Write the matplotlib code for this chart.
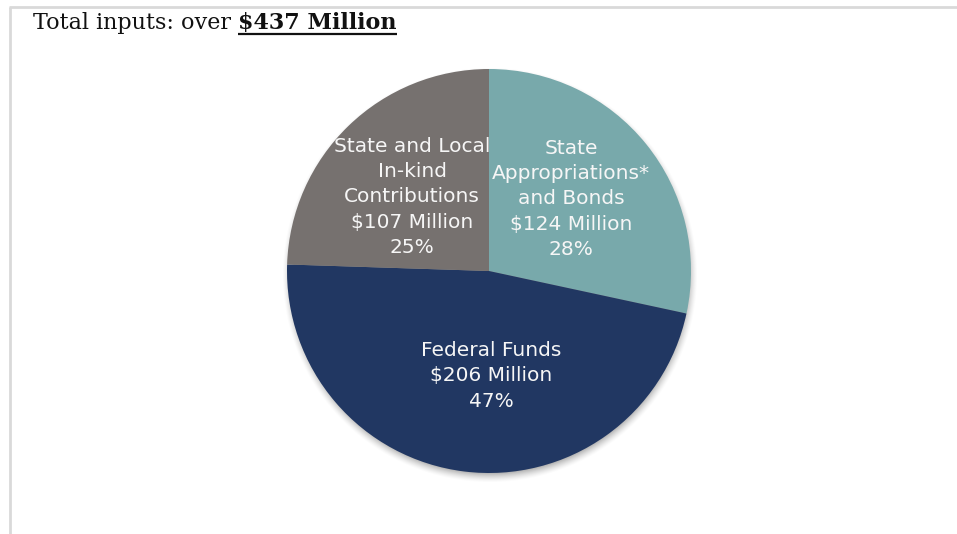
import matplotlib
matplotlib.use("Agg")
import matplotlib.pyplot as plt
import numpy as np

# Funding sources (millions of dollars)
names = ["State\nAppropriations*\nand Bonds", "Federal Funds", "State and Local\nIn-kind\nContributions"]
values = [124, 206, 107]
pct_labels = ["28%", "47%", "25%"]
colors = ["#78a9ab", "#213762", "#76716f"]
total_label = "$437 Million"

W, H = 957, 534
fig = plt.figure(figsize=(W / 100, H / 100), dpi=100)
fig.patch.set_facecolor("white")
ax = fig.add_axes([0, 0, 1, 1])
ax.set_xlim(0, W)
ax.set_ylim(0, H)
ax.set_aspect("equal")
ax.axis("off")

# frame lines
ax.plot([9, W], [H - 6.5, H - 6.5], color="#d9d9d9", lw=2, solid_capstyle="butt", zorder=1)
ax.plot([9.5, 9.5], [0, H - 6.5], color="#d9d9d9", lw=2, solid_capstyle="butt", zorder=1)

cx, cy, R = 489, H - 271, 202

# soft drop shadow under the pie
yy, xx = np.mgrid[0:H, 0:W]
d = np.hypot(xx + 0.5 - (cx + 1), (H - yy - 0.5) - (cy - 4))
blur = 6.0
a = np.clip((R + blur - d) / (2 * blur), 0, 1) ** 1.5 * 0.4
shadow = np.zeros((H, W, 4))
shadow[..., 3] = a
ax.imshow(shadow, extent=(0, W, 0, H), origin="upper", zorder=2, interpolation="bilinear")

wedges, _ = ax.pie(values, colors=colors, startangle=90, counterclock=False,
                   center=(cx, cy), radius=R, frame=True,
                   wedgeprops=dict(linewidth=0, zorder=3))
for w in wedges:
    w.set_zorder(3)
ax.set_xlim(0, W)
ax.set_ylim(0, H)
ax.axis("off")

label_pos = [(571, H - 199), (491, H - 376), (412, H - 197)]
for (x, y), n, v, p in zip(label_pos, names, values, pct_labels):
    ax.text(x, y, f"{n}\n${v} Million\n{p}", ha="center", va="center",
            color="#f6f6f6", fontsize=14.5, family="DejaVu Sans",
            linespacing=1.42, zorder=5)

# title
t1 = ax.text(33, H - 29, "Total inputs: over ", family="DejaVu Serif",
             fontsize=16, ha="left", va="baseline", color="#111111")
t2 = ax.annotate(total_label, xy=(1, 0), xycoords=t1, xytext=(0, 0),
                 textcoords="offset points", family="DejaVu Serif",
                 fontsize=16, fontweight="bold", ha="left", va="bottom",
                 color="#111111")
fig.canvas.draw()
bb = t2.get_window_extent()
ax.plot([bb.x0, bb.x1], [H - 33.5, H - 33.5], color="#111111", lw=1.6,
        solid_capstyle="butt")

fig.savefig("out.png", dpi=100, facecolor="white")
